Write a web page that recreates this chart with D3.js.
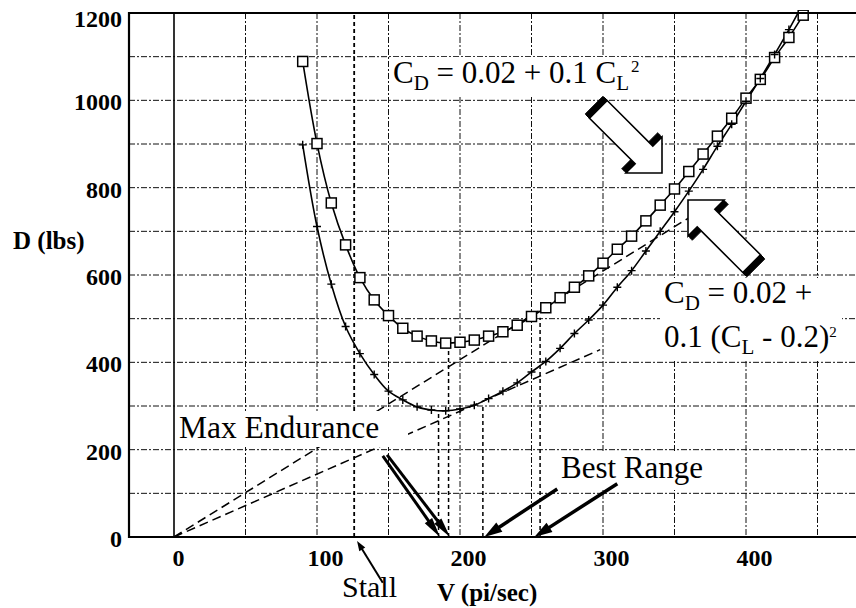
<!DOCTYPE html>
<html><head><meta charset="utf-8">
<script src="https://cdn.jsdelivr.net/npm/d3@7"></script>
<style>body{margin:0;background:#fff}svg{display:block}</style>
</head><body><svg id="c" width="856" height="608" font-family="Liberation Serif"></svg>
<script>
// ---------- data ----------
const speeds = [90,100,110,120,130,140,150,160,170,180,190,200,210,220,230,240,250,260,270,280,290,300,310,320,330,340,350,360,370,380,390,400,410,420,430,440];
// C_D = 0.02 + 0.1 C_L^2  (square markers)
const dragParabolic = [1089,901,765,669,594,543,507,478,460,449,444,446,451,460,470,485,505,525,548,572,598,627,659,689,724,760,797,837,877,918,959,1005,1048,1098,1144,1195];
// C_D = 0.02 + 0.1 (C_L - 0.2)^2  (cross markers)
const dragShifted = [898,711,579,482,420,372,334,314,298,291,289,293,302,317,334,353,378,402,432,466,497,531,572,610,655,700,745,792,842,895,945,998,1050,1105,1162,1222];
const xTickValues = [0,100,200,300,400];
const yTickValues = [0,200,400,600,800,1000,1200];
const xGridValues = [50,100,150,200,250,300,350,400,450];
const yGridValues = [100,200,300,400,500,600,700,800,900,1000,1100];
// tangent lines from the origin: end point (V, D)
const tangentEndV = [360,298];
const tangentEndD = [731,429];
// vertical reference lines: V, top D
const refV   = [126,185,192,216,256];
const refTop = [1200,288,440,300,502];
// annotation arrows (data coords): start V,D -> tip V,D
const enduranceArrows = [{v0:146,d0:186,v1:186,d1:0},{v0:149,d0:188,v1:193,d1:0}];
const rangeArrows = [{v0:268,d0:110,v1:217,d1:0},{v0:310,d0:122,v1:252,d1:0}];
const stallArrow = {v0:146,d0:-105,v1:128,d1:-9};

// ---------- layout ----------
const L=129, R=856, T=13, B=537;
const FONT = 'Liberation Serif';
const x = d3.scaleLinear().domain([0,400]).range([174,746]);
const y = d3.scaleLinear().domain([0,1200]).range([B,T]);
const svg = d3.select('#c');

svg.append('defs').append('clipPath').attr('id','plot')
  .append('rect').attr('x',L).attr('y',T-3).attr('width',R-L).attr('height',B-T+3);

// grid
const grid = svg.append('g').attr('stroke','#111').attr('stroke-width',1).attr('stroke-dasharray','6,2,2,2').attr('fill','none');
grid.selectAll('.gy').data(yGridValues).join('line')
  .attr('x1',L).attr('x2',R).attr('y1',d=>y(d)).attr('y2',d=>y(d));
grid.selectAll('.gx').data(xGridValues).join('line')
  .attr('x1',d=>x(d)).attr('x2',d=>x(d)).attr('y1',T).attr('y2',B);
svg.append('line').attr('x1',x(0)).attr('x2',x(0)).attr('y1',T).attr('y2',B)
  .attr('stroke','#000').attr('stroke-width',1.6);

// tangent lines (dashed, from origin)
svg.append('g').selectAll('line').data(tangentEndV).join('line')
  .attr('x1',x(0)).attr('y1',y(0))
  .attr('x2',d=>x(d)).attr('y2',(d,i)=>y(tangentEndD[i]))
  .attr('stroke','#000').attr('stroke-width',1.5).attr('stroke-dasharray','9,5');

// vertical reference lines
svg.append('g').selectAll('line').data(refV).join('line')
  .attr('x1',d=>x(d)).attr('x2',d=>x(d)).attr('y1',y(0)).attr('y2',(d,i)=>y(refTop[i]))
  .attr('stroke','#000').attr('stroke-width',(d,i)=>i===0?1.8:1.5).attr('stroke-dasharray','4,3');

// text masks
const masks = [[176,411,232,36],[557,453,150,37],[390,57,252,39],[660,278,182,82]];
svg.append('g').selectAll('rect').data(masks).join('rect')
  .attr('x',d=>d[0]).attr('y',d=>d[1]).attr('width',d=>d[2]).attr('height',d=>d[3]).attr('fill','#fff');

// curves
const plot = svg.append('g').attr('clip-path','url(#plot)');
const line = d3.line().x(d=>x(d[0])).y(d=>y(d[1])).curve(d3.curveCatmullRom);
const sq = speeds.map((v,i)=>[v,dragParabolic[i]]);
const cr = speeds.map((v,i)=>[v,dragShifted[i]]);
plot.append('path').attr('d',line(sq)).attr('fill','none').attr('stroke','#000').attr('stroke-width',1.6);
plot.append('path').attr('d',line(cr)).attr('fill','none').attr('stroke','#000').attr('stroke-width',1.6);
plot.selectAll('.sq').data(sq).join('rect')
  .attr('x',d=>x(d[0])-5).attr('y',d=>y(d[1])-5).attr('width',10).attr('height',10)
  .attr('fill','#fff').attr('stroke','#000').attr('stroke-width',1.5);
plot.selectAll('.cr').data(cr).join('path')
  .attr('d',d=>{const cx=x(d[0]),cy=y(d[1]);return `M${cx-4},${cy}H${cx+4}M${cx},${cy-4}V${cy+4}`;})
  .attr('stroke','#000').attr('stroke-width',1.4);

// frame
svg.append('path').attr('d',`M${R},${T}H${L}V${B}H${R}`).attr('fill','none').attr('stroke','#000').attr('stroke-width',2.2);

// axes
const ya = svg.append('g').attr('transform',`translate(${L},0)`)
  .call(d3.axisLeft(y).tickValues(yTickValues).tickFormat(d3.format('d')).tickSize(0).tickPadding(7));
ya.select('.domain').remove();
ya.attr('font-family',FONT).attr('font-size',24).attr('font-weight','bold');
ya.selectAll('text').attr('fill','#000').attr('dy',d=>d===1200?'0.55em':'0.4em');
const xa = svg.append('g').attr('transform',`translate(0,${B})`)
  .call(d3.axisBottom(x).tickValues(xTickValues).tickFormat(d3.format('d')).tickSize(0).tickPadding(12));
xa.select('.domain').remove();
xa.attr('font-family',FONT).attr('font-size',24).attr('font-weight','bold');
xa.selectAll('text').attr('dx',d=>d===0?4:8).attr('fill','#000');

// axis titles
const txt = (tx,ty,size,t,bold)=>svg.append('text').attr('x',tx).attr('y',ty)
  .attr('font-family',FONT).attr('font-size',size).attr('font-weight',bold?'bold':'normal').text(t);
txt(13,249,25,'D (lbs)',true);
txt(437,601,25,'V (pi/sec)',true);

// annotations
txt(179,438,31.5,'Max Endurance');
txt(561,478,31,'Best Range');
txt(342,597,30,'Stall');

const eq1 = svg.append('text').attr('x',393).attr('y',83).attr('font-family',FONT).attr('font-size',31);
eq1.append('tspan').text('C');
eq1.append('tspan').attr('font-size',21).attr('dy',7).text('D');
eq1.append('tspan').attr('dy',-7).text(' = 0.02 + 0.1 C');
eq1.append('tspan').attr('font-size',21).attr('dy',7).text('L');
eq1.append('tspan').attr('font-size',17).attr('dy',-18).attr('dx',2).text('2');

const eq2a = svg.append('text').attr('x',664).attr('y',303).attr('font-family',FONT).attr('font-size',31);
eq2a.append('tspan').text('C');
eq2a.append('tspan').attr('font-size',21).attr('dy',7).text('D');
eq2a.append('tspan').attr('dy',-7).text(' = 0.02 +');
const eq2b = svg.append('text').attr('x',664).attr('y',347).attr('font-family',FONT).attr('font-size',31);
eq2b.append('tspan').text('0.1 (C');
eq2b.append('tspan').attr('font-size',21).attr('dy',7).text('L');
eq2b.append('tspan').attr('dy',-7).text(' - 0.2)');
eq2b.append('tspan').attr('font-size',15).attr('dy',-10).text('2');

// thin arrows
function lineArrow(a, w, hl, hw){
  const x0=x(a.v0),y0=y(a.d0),x1=x(a.v1),y1=y(a.d1);
  const dx=x1-x0, dy=y1-y0, len=Math.hypot(dx,dy), ux=dx/len, uy=dy/len;
  const bx=x1-ux*hl, by=y1-uy*hl;
  const g=svg.append('g');
  g.append('line').attr('x1',x0).attr('y1',y0).attr('x2',bx+ux*2).attr('y2',by+uy*2)
    .attr('stroke','#000').attr('stroke-width',w);
  g.append('path').attr('d',`M${x1},${y1}L${bx-uy*hw/2},${by+ux*hw/2}L${bx+uy*hw/2},${by-ux*hw/2}Z`).attr('fill','#000');
}
enduranceArrows.forEach(a=>lineArrow(a,3,20,9));
rangeArrows.forEach(a=>lineArrow(a,3.5,18,11));
lineArrow(stallArrow,2,10,7);

// block arrows with 3D extrusion
const tmpl = [[0,0],[25.5,25.5],[25.5,12.5],[90,12.5],[90,-12.5],[25.5,-12.5],[25.5,-25.5]];
function blockArrow(tx,ty,s){
  const pts = tmpl.map(([u,v])=>[tx+s*(-u+v)/Math.SQRT2, ty+s*(-u-v)/Math.SQRT2]);
  const g = svg.append('g');
  for(let k=5;k>=1;k--){
    g.append('polygon').attr('points',pts.map(p=>[p[0]-s*k*0.85,p[1]-s*k*0.85].join(',')).join(' '))
      .attr('fill','#000').attr('stroke','#000').attr('stroke-width',1);
  }
  g.append('polygon').attr('points',pts.map(p=>p.join(',')).join(' '))
    .attr('fill','#fff').attr('stroke','#000').attr('stroke-width',1.6).attr('stroke-linejoin','miter');
}
blockArrow(662,173,1);
blockArrow(688,200,-1);
</script></body></html>
